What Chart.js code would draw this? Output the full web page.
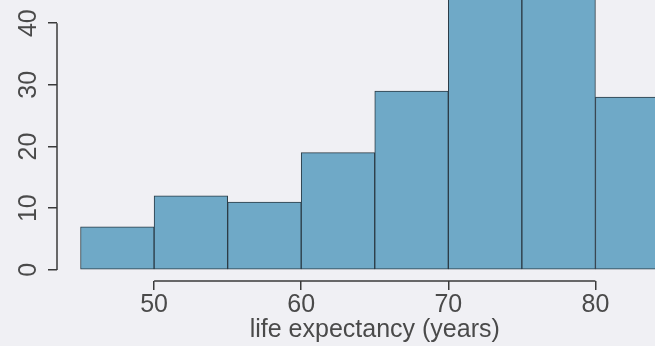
<!DOCTYPE html>
<html>
<head>
<meta charset="utf-8">
<script src="https://cdn.jsdelivr.net/npm/chart.js@4"></script>
<style>
  html, body { margin: 0; padding: 0; background: #f0f0f4; }
  #wrap { width: 655px; height: 346px; }
</style>
</head>
<body>
<div id="wrap"><canvas id="histChart"></canvas></div>
<script>
// histogram bins (left edge), width 5 years
const binStarts = [45, 50, 55, 60, 65, 70, 75, 80];
const binWidth = 5;
// counts per bin (70-80 bars run off the top of the picture, estimated)
const counts = [7, 12, 11, 19, 29, 48, 47, 28];
const xTickValues = [50, 60, 70, 80];
const yTickValues = [0, 10, 20, 30, 40];
const xTitle = 'life expectancy (years)';

const barData = binStarts.map((s, i) => ({ x: s + binWidth / 2, y: counts[i] }));

const axisColor = '#3a3a3a';
const textColor = '#4a4a4a';
const tickFont = { family: 'Liberation Sans, Arial, sans-serif', size: 25 };

// R style axes: lines only from first to last tick, x title centred on the plot region
const rAxes = {
  id: 'rAxes',
  afterDraw(chart) {
    const { ctx, scales: { x, y } } = chart;
    ctx.save();
    ctx.strokeStyle = axisColor;
    ctx.lineWidth = 1.5;
    ctx.beginPath();
    ctx.moveTo(y.right, y.getPixelForValue(yTickValues[0]));
    ctx.lineTo(y.right, y.getPixelForValue(yTickValues[yTickValues.length - 1]));
    ctx.moveTo(x.getPixelForValue(xTickValues[0]), x.top);
    ctx.lineTo(x.getPixelForValue(xTickValues[xTickValues.length - 1]), x.top);
    ctx.stroke();
    ctx.fillStyle = textColor;
    ctx.font = '25px "Liberation Sans", Arial, sans-serif';
    ctx.textAlign = 'center';
    ctx.textBaseline = 'middle';
    ctx.fillText(xTitle, x.getPixelForValue(65), 330);
    ctx.restore();
  }
};

new Chart(document.getElementById('histChart'), {
  type: 'bar',
  data: {
    datasets: [{
      data: barData,
      backgroundColor: '#6fa9c7',
      borderColor: '#2b3b45',
      borderWidth: 1,
      borderSkipped: false,
      barPercentage: 1,
      categoryPercentage: 1
    }]
  },
  options: {
    responsive: true,
    maintainAspectRatio: false,
    animation: false,
    layout: { padding: 0 },
    plugins: { legend: { display: false }, tooltip: { enabled: false } },
    scales: {
      x: {
        type: 'linear',
        min: 43.4,
        max: 84.05,
        offset: false,
        afterBuildTicks: s => { s.ticks = xTickValues.map(v => ({ value: v })); },
        afterFit: s => { s.height = 65; s.paddingLeft = 0; s.paddingRight = 0; },
        border: { display: false },
        grid: { offset: false, drawOnChartArea: false, drawTicks: true, tickLength: 9, tickColor: axisColor, lineWidth: 1.5 },
        ticks: { color: textColor, font: tickFont, padding: 0, maxRotation: 0, autoSkip: false }
      },
      y: {
        min: -1.8,
        max: 43.75,
        afterBuildTicks: s => { s.ticks = yTickValues.map(v => ({ value: v })); },
        afterFit: s => { s.width = 57; s.paddingTop = 0; s.paddingBottom = 0; },
        border: { display: false },
        grid: { drawOnChartArea: false, drawTicks: true, tickLength: 9, tickColor: axisColor, lineWidth: 1.5 },
        ticks: { color: textColor, font: tickFont, padding: 5, minRotation: 90, maxRotation: 90, crossAlign: 'center' }
      }
    }
  },
  plugins: [rAxes]
});
</script>
</body>
</html>
